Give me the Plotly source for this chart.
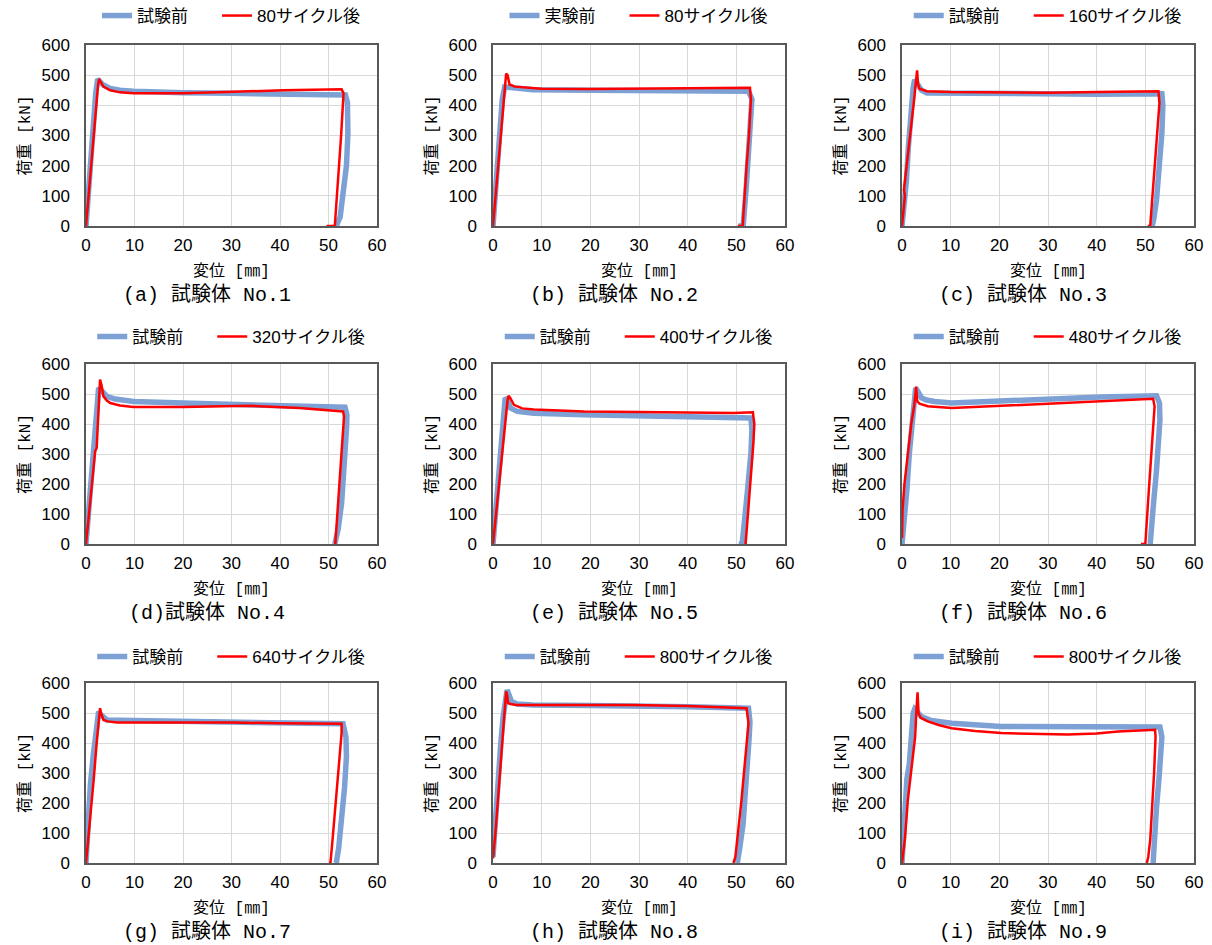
import plotly.graph_objects as go

# ---------------- data (displacement [mm], load [kN]) ----------------
a_before_x = [0, 0.4, 1.0, 1.6, 2.0, 2.4, 2.9, 3.5, 5.0, 7.0, 9.8, 15, 20, 30, 40, 50, 53.5, 53.9, 54.0, 53.7, 53.0, 52.4, 51.6]
a_before_y = [0, 90, 250, 362, 440, 487, 480, 468, 456, 450, 447, 444, 442, 440, 437, 435, 434, 410, 307, 200, 85, 30, 0]
a_after_x = [0, 0.6, 1.4, 2.2, 2.5, 2.7, 3.0, 3.6, 5.0, 7.0, 9.8, 20, 30.4, 40.7, 52.7, 53.1, 52.6, 52.0, 51.3, 49.6]
a_after_y = [0, 110, 280, 420, 470, 487, 480, 462, 450, 443, 440, 440, 445, 450, 453, 440, 300, 150, 0, 0]

b_before_x = [0, 0.5, 1.2, 1.9, 2.4, 3.0, 4.0, 6.0, 8.2, 20, 30, 40, 52.5, 53.2, 52.8, 52.0, 51.4, 50.4]
b_before_y = [0, 120, 300, 420, 461, 460, 456, 453, 452, 450, 450, 449, 447, 420, 300, 120, 0, 0]
b_after_x = [0, 0.6, 1.4, 2.2, 2.5, 2.7, 3.0, 3.4, 4.5, 6.9, 10, 20, 30, 40, 52.8, 53.0, 52.6, 52.1, 51.6, 51.3, 50.3]
b_after_y = [0, 110, 260, 410, 460, 505, 500, 469, 462, 458, 455, 454, 455, 456, 458, 419, 300, 197, 80, 0, 0]

c_before_x = [0, 0.4, 0.9, 1.3, 1.6, 2.0, 2.3, 2.6, 3.2, 4.0, 5.1, 10, 20, 30, 40, 53.4, 53.6, 53.4, 52.9, 52.3, 51.7, 51.4]
c_before_y = [0, 60, 150, 260, 330, 400, 460, 485, 470, 450, 441, 440, 439, 438, 437, 438, 400, 308, 200, 86, 20, 0]
c_after_x = [0, 0.3, 0.6, 0.4, 0.8, 1.4, 2.1, 2.5, 2.7, 3.0, 3.1, 3.3, 3.6, 5.1, 10, 20, 30, 40, 52.7, 52.9, 52.4, 51.8, 51.2, 51.0, 50.5]
c_after_y = [0, 40, 100, 120, 180, 280, 363, 420, 463, 500, 516, 470, 455, 447, 444, 443, 442, 444, 447, 408, 300, 170, 40, 0, 0]

d_before_x = [0, 0.5, 1.0, 1.6, 2.2, 2.6, 3.0, 4.3, 6.0, 9.8, 20, 30.4, 40.7, 53.4, 53.8, 53.7, 53.3, 52.7, 52.0, 51.3, 50.9]
d_before_y = [0, 100, 220, 350, 470, 520, 515, 492, 483, 475, 470, 464, 461, 456, 430, 381, 260, 136, 50, 0, 0]
d_after_x = [0, 0.5, 1.2, 1.9, 2.2, 2.4, 2.7, 2.9, 3.2, 3.6, 4.3, 5.0, 7.0, 9.8, 20, 33.8, 44, 53.0, 53.2, 52.7, 52.0, 51.4]
d_after_y = [0, 80, 200, 310, 320, 390, 470, 548, 530, 492, 478, 470, 462, 457, 457, 461, 453, 442, 425, 300, 150, 0]

e_before_x = [0, 0.5, 1.0, 1.5, 2.0, 2.5, 3.0, 3.6, 5.0, 8.4, 18.7, 30, 40, 53.0, 53.2, 53.0, 52.3, 51.6, 51.2, 50.5]
e_before_y = [0, 100, 220, 340, 440, 487, 480, 453, 442, 436, 431, 428, 425, 420, 380, 303, 180, 80, 0, 0]
e_after_x = [0, 0.5, 1.2, 1.9, 2.5, 3.0, 3.2, 3.6, 4.3, 6.0, 8.4, 18.7, 30, 40, 49.5, 53.4, 53.7, 53.5, 53.1, 52.6, 52.2, 51.9]
e_after_y = [0, 80, 200, 320, 420, 480, 494, 485, 464, 452, 448, 442, 440, 438, 437, 439, 400, 336, 240, 136, 60, 0]

f_before_x = [0, 0.5, 1.0, 1.5, 2.0, 2.5, 2.8, 3.2, 4.0, 5.0, 6.7, 10.2, 17, 27.3, 41, 52.3, 52.9, 53.0, 52.7, 52.3, 51.6, 51.0]
f_before_y = [0, 70, 180, 300, 400, 480, 520, 510, 487, 480, 475, 470, 475, 483, 490, 494, 470, 414, 330, 247, 120, 0]
f_after_x = [0, 0.1, 0.5, 1.2, 1.9, 2.5, 2.8, 2.9, 3.1, 3.2, 3.6, 5.3, 10.2, 20.4, 34.2, 47.9, 51.6, 51.9, 51.3, 50.6, 50.0, 49.1]
f_after_y = [20, 110, 200, 310, 400, 460, 500, 525, 480, 475, 468, 459, 453, 461, 470, 481, 484, 459, 300, 150, 0, 0]

g_before_x = [0, 0.5, 0.9, 1.5, 2.0, 2.4, 2.6, 3.0, 4.3, 9.8, 20, 30.4, 40, 53.0, 53.6, 53.7, 53.3, 52.7, 52.1, 51.6]
g_before_y = [0, 150, 260, 360, 430, 490, 505, 495, 477, 475, 472, 468, 466, 464, 420, 355, 250, 132, 50, 0]
g_after_x = [0, 0.6, 1.3, 1.6, 2.2, 2.6, 2.9, 3.1, 3.6, 4.5, 6.4, 10, 20, 30.4, 40, 52.7, 52.7, 52.2, 51.5, 50.9, 50.4, 50.1]
g_after_y = [0, 100, 240, 280, 400, 470, 516, 500, 477, 472, 468, 468, 469, 468, 466, 464, 433, 330, 200, 90, 0, 0]

h_before_x = [0, 0.5, 1.0, 1.6, 2.1, 2.5, 2.9, 3.3, 3.8, 5.0, 8.2, 20, 28.8, 40, 52.5, 52.8, 52.6, 52.0, 51.4, 50.7, 50.2]
h_before_y = [20, 150, 270, 400, 490, 550, 577, 560, 538, 530, 527, 525, 524, 521, 516, 470, 410, 270, 132, 50, 0]
h_after_x = [0, 0.5, 1.2, 1.9, 2.3, 2.7, 2.9, 3.1, 3.6, 4.8, 10, 20, 28.8, 40, 52.1, 52.5, 51.9, 51.0, 50.2, 49.8, 49.4]
h_after_y = [15, 100, 250, 400, 490, 572, 560, 533, 530, 527, 527, 527, 527, 523, 516, 466, 350, 200, 80, 20, 0]

i_before_x = [0, 0.5, 1.0, 1.5, 1.9, 2.3, 2.6, 3.0, 4.0, 6.0, 10.2, 20.4, 34.1, 45, 53.0, 53.4, 53.3, 52.8, 52.3, 51.9, 51.6]
i_before_y = [0, 130, 280, 330, 420, 500, 513, 505, 488, 475, 466, 455, 453, 451, 453, 420, 388, 280, 187, 80, 0]
i_after_x = [0, 0.6, 1.2, 1.9, 2.2, 2.7, 3.0, 3.2, 3.4, 3.8, 5.3, 7.5, 10.2, 15, 20.4, 27, 34.1, 40, 44.4, 52.0, 52.1, 51.8, 51.4, 51.0, 50.6, 50.3]
i_after_y = [0, 80, 210, 300, 340, 420, 520, 569, 500, 485, 472, 460, 449, 440, 433, 431, 428, 432, 438, 444, 421, 300, 180, 76, 20, 0]

before_names = ["試験前", "実験前", "試験前", "試験前", "試験前", "試験前", "試験前", "試験前", "試験前"]
after_names = ["80サイクル後", "80サイクル後", "160サイクル後", "320サイクル後", "400サイクル後",
               "480サイクル後", "640サイクル後", "800サイクル後", "800サイクル後"]
captions = ["(a) 試験体 No.1", "(b) 試験体 No.2", "(c) 試験体 No.3",
            "(d)試験体 No.4", "(e) 試験体 No.5", "(f) 試験体 No.6",
            "(g) 試験体 No.7", "(h) 試験体 No.8", "(i) 試験体 No.9"]
x_title = "変位 [㎜]"
y_title = "荷重 [kN]"
x_ticks = [0, 10, 20, 30, 40, 50, 60]
y_ticks = [0, 100, 200, 300, 400, 500, 600]

panels = [
    (a_before_x, a_before_y, a_after_x, a_after_y),
    (b_before_x, b_before_y, b_after_x, b_after_y),
    (c_before_x, c_before_y, c_after_x, c_after_y),
    (d_before_x, d_before_y, d_after_x, d_after_y),
    (e_before_x, e_before_y, e_after_x, e_after_y),
    (f_before_x, f_before_y, f_after_x, f_after_y),
    (g_before_x, g_before_y, g_after_x, g_after_y),
    (h_before_x, h_before_y, h_after_x, h_after_y),
    (i_before_x, i_before_y, i_after_x, i_after_y),
]

# ---------------- layout geometry (pixels) ----------------
W, H = 1212, 945
col_px = [(86, 377), (493, 785), (902, 1194)]
row_px = [(45, 226), (364, 544), (683, 863)]
legend_y_px = [16, 337, 657]

BLUE = "#7DA1D4"
RED = "#FF0000"
FRAME = "#595959"
JP = "Noto Sans CJK JP"
SANS = "Liberation Sans, " + JP
MONO = "Liberation Mono, " + JP

fig = go.Figure()
layout = dict(
    width=W, height=H, showlegend=True,
    margin=dict(l=0, r=0, t=0, b=0, autoexpand=False),
    paper_bgcolor="white", plot_bgcolor="white",
    font=dict(family=SANS, size=17, color="#000000"),
    annotations=[],
)

def px_x(p):
    return p / W

def px_y(p):
    return 1 - p / H

def legend_box(x_left_px, y_mid_px):
    return dict(
        orientation="h", x=px_x(x_left_px), y=px_y(y_mid_px),
        xanchor="left", yanchor="middle", bgcolor="rgba(0,0,0,0)",
        font=dict(family=SANS, size=17, color="#000000"),
        itemwidth=30, borderwidth=0, visible=True,
    )

for k, (bx, by, ax_, ay) in enumerate(panels):
    r, c = divmod(k, 3)
    sfx = "" if k == 0 else str(k + 1)
    x0, x1 = col_px[c]
    y0, y1 = row_px[r]
    lg_b = "legend" if k == 0 else "legend" + str(2 * k + 1)
    lg_r = "legend" + str(2 * k + 2)

    fig.add_trace(go.Scatter(x=bx, y=by, mode="lines", name=before_names[k],
                             line=dict(color=BLUE, width=5.5), showlegend=True,
                             xaxis="x" + sfx, yaxis="y" + sfx, legend=lg_b))
    fig.add_trace(go.Scatter(x=ax_, y=ay, mode="lines", name=after_names[k],
                             line=dict(color=RED, width=2.5), showlegend=True,
                             xaxis="x" + sfx, yaxis="y" + sfx, legend=lg_r))

    layout["xaxis" + sfx] = dict(
        domain=[px_x(x0), px_x(x1)], anchor="y" + sfx, automargin=False,
        range=[0, 60], tickvals=x_ticks, showgrid=True, gridcolor="#D9D9D9",
        showline=True, linecolor=FRAME, linewidth=1.5, mirror=True,
        zeroline=False, ticks="", ticklabelstandoff=3,
        tickfont=dict(family=SANS, size=17, color="#000000"),
    )
    layout["yaxis" + sfx] = dict(
        domain=[px_y(y1), px_y(y0)], anchor="x" + sfx, automargin=False,
        range=[0, 600], tickvals=y_ticks, showgrid=True, gridcolor="#D9D9D9",
        showline=True, linecolor=FRAME, linewidth=1.5, mirror=True,
        zeroline=False, ticks="", ticklabelstandoff=11,
        tickfont=dict(family=SANS, size=17, color="#000000"),
    )
    # centred legend row: [line 37][2][text1 53][28][line 37][2][text2]
    cx = (x0 + x1) / 2
    text2_w = 108 + (len(after_names[k]) - 7) * 9.5
    total_w = 37 + 2 + 53 + 28 + 37 + 2 + text2_w
    start = cx - total_w / 2
    layout[lg_b] = legend_box(start - 1, legend_y_px[r])
    layout[lg_r] = legend_box(start + 120 - 1, legend_y_px[r])

    layout["annotations"].append(dict(
        text=x_title, x=px_x(cx), y=px_y(y1 + 45), xref="paper", yref="paper",
        xanchor="center", yanchor="middle", showarrow=False,
        font=dict(family=MONO, size=16, color="#000000")))
    layout["annotations"].append(dict(
        text=y_title, x=px_x(x0 - 61), y=px_y((y0 + y1) / 2), xref="paper", yref="paper",
        xanchor="center", yanchor="middle", showarrow=False, textangle=-90,
        font=dict(family=MONO, size=16, color="#000000")))
    layout["annotations"].append(dict(
        text=captions[k], x=px_x(cx - 25), y=px_y(y1 + 69), xref="paper", yref="paper",
        xanchor="center", yanchor="middle", showarrow=False,
        font=dict(family=MONO, size=20, color="#000000")))

fig.update_layout(**layout)
fig.write_html("out.html", config={"displayModeBar": False},
               post_script="document.body.style.margin='0px';")
